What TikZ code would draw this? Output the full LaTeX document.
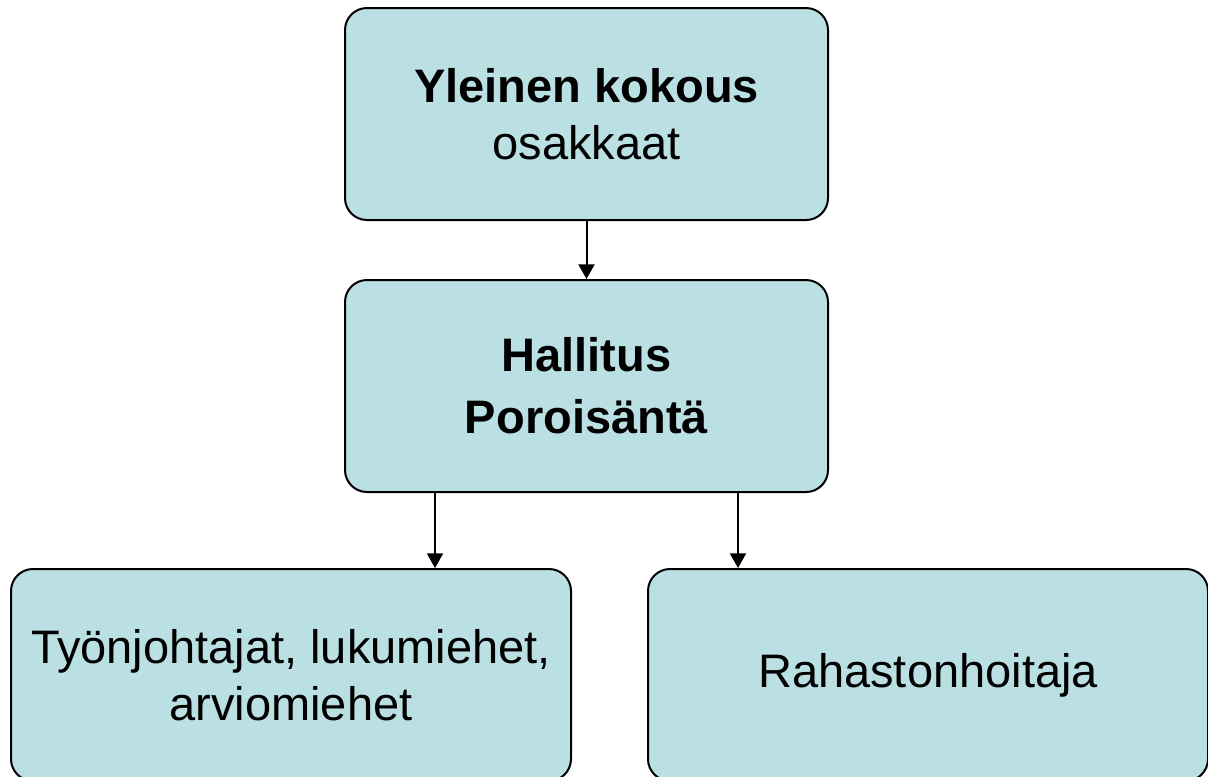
\documentclass[tikz,border=0pt]{standalone}
\usepackage{fontspec}
\setmainfont{Liberation Sans}
\usetikzlibrary{arrows.meta}

\definecolor{boxblue}{HTML}{BBE0E3}

\tikzset{
  orgbox/.style={draw, line width=1.5pt, fill=boxblue, rounded corners=16.5pt,
    inner sep=0pt, align=center, font=\fontsize{35.25}{42.75}\selectfont},
  link/.style={-{Triangle[length=11pt,width=12pt]}, line width=1.5pt}
}

\begin{document}
\begin{tikzpicture}[x=0.75pt,y=-0.75pt]

% Page
\clip (0,0) rectangle (1208,776);

% Boxes
\node[orgbox, minimum width=362.25pt, minimum height=159pt] (kokous) at (586.5,114)
    {\textbf{Yleinen kokous}\\osakkaat};
\node[orgbox, minimum width=362.25pt, minimum height=159pt] (hallitus) at (586.5,386)
    {\textbf{Hallitus}\\[3.75pt]\textbf{Poroisäntä}};
\node[orgbox, minimum width=420pt, minimum height=159pt, anchor=north] (tyonjohto) at (291,568)
    {Työnjohtajat, lukumiehet,\\arviomiehet};
\node[orgbox, minimum width=420pt, minimum height=159pt, anchor=north] (rahasto) at (928,568)
    {Rahastonhoitaja};

% Branch points
\coordinate (left) at (435,0);
\coordinate (right) at (738,0);

% Arrows
\draw[link] (kokous) -- (hallitus);
\draw[link] (hallitus.south -| left) -- (tyonjohto.north -| left);
\draw[link] (hallitus.south -| right) -- (rahasto.north -| right);

\end{tikzpicture}
\end{document}
